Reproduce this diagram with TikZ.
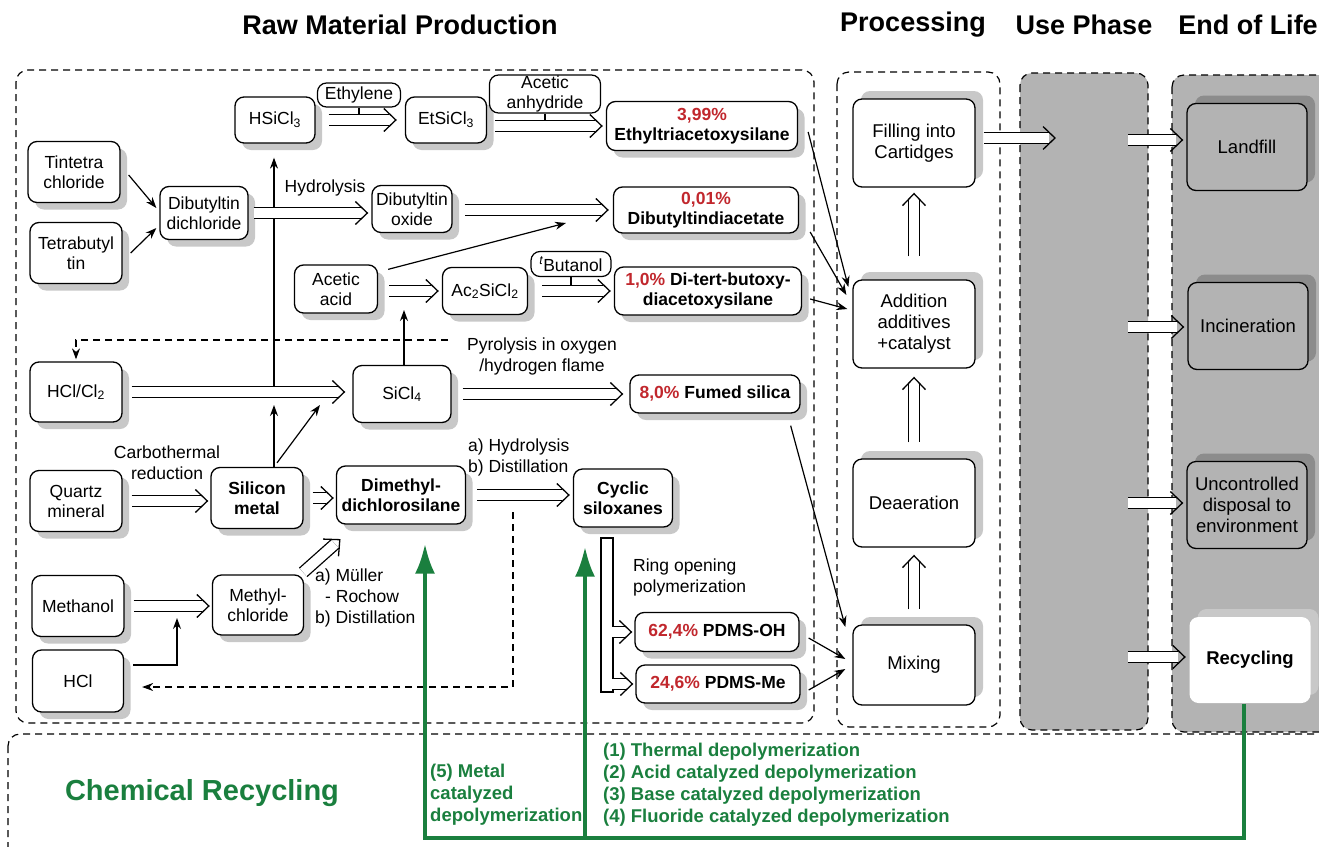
\documentclass[tikz,border=0pt]{standalone}
\usepackage{fontspec}
\setmainfont{Liberation Sans}
\usepackage{tikz}
\usetikzlibrary{arrows.meta}
\usetikzlibrary{shadows}
\usetikzlibrary{decorations.markings}
\definecolor{pctred}{HTML}{C1272D}
\definecolor{recgreen}{HTML}{1A7F3E}
\definecolor{phasegray}{HTML}{B3B3B3}
\definecolor{shadegray}{HTML}{C8C8C8}
\definecolor{darkshade}{HTML}{8C8C8C}

\newcommand{\pct}[1]{\textcolor{pctred}{#1}}

\tikzset{
  wh/.style 2 args={minimum width=#1pt, minimum height=#2pt},
  box/.style={draw, rounded corners=9pt, fill=white, line width=1.3pt, align=center, inner sep=1pt, font=\fontsize{17.5}{20}\selectfont},
  strong/.style={font=\fontsize{17.5}{20}\selectfont\bfseries},
  rmpbox/.style={box, drop shadow={shadow xshift=7pt, shadow yshift=-7pt, fill=shadegray, opacity=1}},
  procbox/.style={box, wh={122}{88}, font=\fontsize{18.5}{21}\selectfont, drop shadow={shadow xshift=8pt, shadow yshift=8pt, fill=shadegray, opacity=1}},
  eolbox/.style={box, fill=phasegray, wh={120}{87}, font=\fontsize{18.5}{21}\selectfont, drop shadow={shadow xshift=8pt, shadow yshift=8pt, fill=darkshade, opacity=1}},
  reagent/.style={draw, rounded corners=9pt, fill=white, line width=1.2pt, align=center, inner sep=0pt, font=\fontsize{17.5}{20}\selectfont},
  note/.style={align=center, inner sep=0pt, font=\fontsize{17.5}{21}\selectfont},
  heading/.style={inner sep=0pt, font=\fontsize{27}{30}\selectfont\bfseries},
  phase/.style={draw, dash pattern=on 7pt off 5pt, line width=1.2pt, rounded corners=12pt},
  arr/.style={line width=1.2pt, -{Stealth[length=11pt, width=8pt]}},
  dasharr/.style={arr, dash pattern=on 7pt off 5pt},
  chevron/.style={postaction={decorate, decoration={markings, mark=at position 1 with {\pgfsetinnerlinewidth{0pt}\draw[line width=1.3pt, shorten >=0pt, shorten <=0pt, line join=miter, solid] (-12pt,11.5pt) -- (0pt,0pt) -- (-12pt,-11.5pt);}}}},
  dbl/.style={double, double distance=10pt, line width=1.3pt, shorten >=6.5pt, chevron},
  tick/.style={line width=1.1pt},
  recline/.style={recgreen, line width=4pt},
  recarr/.style={recline, -{Latex[length=30pt, width=20pt]}},
  rectext/.style={recgreen, inner sep=0pt, align=left, anchor=west, font=\fontsize{18.5}{22}\selectfont\bfseries},
}

\begin{document}
\begin{tikzpicture}[x=1pt, y=-1pt]
        \useasboundingbox (0,0) rectangle (1319,846);

        % Phase frames
        \draw[phase] (16,70) rectangle (814,723);
        \draw[phase] (837,72) rectangle (1000,727);
        \draw[phase, fill=phasegray] (1020,73) rectangle (1148,730);
        \draw[phase, fill=phasegray] (1172,75) rectangle (1345,732);
        \draw[phase] (8,734) rectangle (1345,880);

        % Headings
        \node[heading] (rmphead) at (400,25) {Raw Material Production};
        \node[heading] (prochead) at (913,25) {Processing};
        \node[heading] (usehead) at (1084,25) {Use Phase};
        \node[heading] (eolhead) at (1248,25) {End of Life};

        % Raw material production
        \node[rmpbox, wh={92}{61}] (tintetra) at (74,172) {Tintetra\\chloride};
        \node[rmpbox, wh={92}{61}] (tetrabutyl) at (76,253) {Tetrabutyl\\tin};
        \node[rmpbox, wh={88}{53}] (dbtdcl) at (204,213) {Dibutyltin\\dichloride};
        \node[rmpbox, wh={80}{46}] (hsicl) at (275,120) {HSiCl\textsubscript{3}};
        \node[reagent, wh={83}{24}] (ethylene) at (359,95) {Ethylene};
        \node[rmpbox, wh={81}{46}] (etsicl) at (446,120) {EtSiCl\textsubscript{3}};
        \node[reagent, wh={111}{38}] (anhydride) at (545,94) {Acetic\\anhydride};
        \node[rmpbox, strong, wh={191}{49}] (ethyltri) at (702,126) {\pct{3,99\%}\\Ethyltriacetoxysilane};
        \node[rmpbox, wh={80}{47}] (dbtox) at (412,209) {Dibutyltin\\oxide};
        \node[rmpbox, strong, wh={185}{46}] (dbtdiac) at (706,210) {\pct{0,01\%}\\Dibutyltindiacetate};
        \node[rmpbox, wh={83}{48}] (aceticacid) at (336,289) {Acetic\\acid};
        \node[rmpbox, wh={85}{47}] (acsicl) at (485,291) {Ac\textsubscript{2}SiCl\textsubscript{2}};
        \node[reagent, wh={80}{25}] (butanol) at (571,264) {\textsuperscript{\itshape t}Butanol};
        \node[rmpbox, strong, wh={187}{48}] (ditert) at (708,291) {\pct{1,0\%} Di-tert-butoxy-\\diacetoxysilane};
        \node[rmpbox, wh={92}{60}] (hclcl) at (76,392) {HCl/Cl\textsubscript{2}};
        \node[rmpbox, wh={98}{57}] (sicl4) at (402,394) {SiCl\textsubscript{4}};
        \node[rmpbox, strong, wh={170}{38}] (fumed) at (715,394) {\pct{8,0\%} Fumed silica};
        \node[rmpbox, wh={92}{61}] (quartz) at (76,501) {Quartz\\mineral};
        \node[rmpbox, strong, wh={92}{61}] (simetal) at (257,498) {Silicon\\metal};
        \node[rmpbox, strong, wh={129}{58}] (dmdcs) at (401,495) {Dimethyl-\\dichlorosilane};
        \node[rmpbox, strong, wh={99}{58}] (cyclic) at (623,498) {Cyclic\\siloxanes};
        \node[rmpbox, wh={92}{61}] (methanol) at (78,606) {Methanol};
        \node[rmpbox, wh={91}{60}] (mecl) at (258,605) {Methyl-\\chloride};
        \node[rmpbox, wh={91}{62}] (hcl) at (78,681) {HCl};
        \node[rmpbox, strong, wh={164}{39}] (pdmsoh) at (717,632) {\pct{62,4\%} PDMS-OH};
        \node[rmpbox, strong, wh={164}{38}] (pdmsme) at (718,684) {\pct{24,6\%} PDMS-Me};
        \node[draw, fill=white, line width=1.3pt, inner sep=0pt, wh={12}{154}] (bus) at (607,615) {};

        % Process notes
        \node[note] (hydro) at (325,188) {Hydrolysis};
        \node[note] (pyro) at (542,356) {Pyrolysis in oxygen\\/hydrogen flame};
        \node[note] (carbo) at (167,463) {Carbothermal\\reduction};
        \node[note, align=left, anchor=west] (rochow) at (315,598) {a) Müller\\\hspace*{10pt}- Rochow\\b) Distillation};
        \node[note, align=left, anchor=west] (hydist) at (468,457) {a) Hydrolysis\\b) Distillation};
        \node[note, align=left, anchor=west] (ringopen) at (633,577) {Ring opening\\polymerization};

        % Processing
        \node[procbox] (filling) at (914,143) {Filling into\\Cartidges};
        \node[procbox] (addition) at (914,324) {Addition\\additives\\+catalyst};
        \node[procbox] (deaeration) at (914,503) {Deaeration};
        \node[procbox, wh={122}{80}] (mixing) at (914,665) {Mixing};

        % End of life
        \node[eolbox] (landfill) at (1247,147) {Landfill};
        \node[eolbox] (incin) at (1248,326) {Incineration};
        \node[eolbox] (uncontrolled) at (1247,505) {Uncontrolled\\disposal to\\environment};
        \node[box, draw=none, wh={121}{86}, font=\fontsize{18.5}{21}\selectfont\bfseries, drop shadow={shadow xshift=8pt, shadow yshift=8pt, fill=shadegray, opacity=1}] (recycling) at (1250,660) {Recycling};

        % Free ends
        \coordinate (sitop) at (274,387);
        \coordinate (sibot) at (274,405);
        \coordinate (sidiag) at (320,405);
        \coordinate (acbot) at (404,310);
        \coordinate (acdiag) at (566,223);
        \coordinate (mejoin) at (177,618);
        \coordinate (hclret) at (448,340);
        \coordinate (cldrop) at (513,512);
        \coordinate (usein) at (1055,138);
        \coordinate (useout1) at (1128,140);
        \coordinate (useout2) at (1128,327);
        \coordinate (useout3) at (1128,503);
        \coordinate (useout4) at (1128,657);
        \coordinate (gleft) at (425,838);
        \coordinate (gmid) at (585,838);

        % Single arrows
        \draw[arr] ([xshift=8pt, yshift=-3pt]tintetra.east) -- ([xshift=-3pt, yshift=5pt]dbtdcl.west);
        \draw[arr] ([xshift=8pt]tetrabutyl.east) -- ([xshift=-3pt, yshift=-15pt]dbtdcl.west);
        \draw[arr, shorten >=14pt] (sitop) -- (sitop |- hsicl.south);
        \draw[arr] (simetal.north -| sibot) -- (sibot);
        \draw[arr] ([xshift=20pt, yshift=4pt]simetal.north) -- (sidiag);
        \draw[arr] (sicl4.north -| acbot) -- (acbot);
        \draw[arr] ([xshift=10pt, yshift=-5pt]aceticacid.north east) -- (acdiag);
        \draw[arr] ([xshift=9pt, yshift=16pt]hcl.east) -| (mejoin);
        \draw[arr] ([xshift=10pt, yshift=-6pt]ethyltri.east) -- ([xshift=-4pt, yshift=37pt]addition.west);
        \draw[arr] ([xshift=11pt, yshift=-22pt]dbtdiac.east) -- ([xshift=-6pt, yshift=29pt]addition.west);
        \draw[arr] ([xshift=8pt, yshift=-8pt]ditert.east) -- ([xshift=-5pt, yshift=15pt]addition.west);
        \draw[arr] ([xshift=-10pt, yshift=-12pt]fumed.south east) -- ([xshift=-7pt, yshift=38pt]mixing.west);
        \draw[arr] ([xshift=9pt, yshift=-6pt]pdmsoh.east) -- ([xshift=-7pt, yshift=6pt]mixing.west);
        \draw[arr] ([xshift=8pt, yshift=-6pt]pdmsme.east) -- ([xshift=-7pt, yshift=-4pt]mixing.west);

        % Recycled HCl
        \draw[dasharr] (hclret) -| ([yshift=2pt]hclcl.north);
        \draw[dasharr] (cldrop) |- ([xshift=18pt, yshift=-6pt]hcl.east);

        % Reagents
        \draw[tick] (ethylene.south) -- (ethylene.south |- hsicl.east);
        \draw[tick] (anhydride.south) -- (anhydride.south |- ethyltri.west);
        \draw[tick] (butanol.south) -- (butanol.south |- ditert.west);

        % Double arrows
        \draw[dbl] ([xshift=13pt]hsicl.east) -- ([xshift=-9pt]etsicl.west);
        \draw[dbl] ([xshift=8pt]etsicl.east |- ethyltri.west) -- ([xshift=-4pt]ethyltri.west);
        \draw[dbl] ([xshift=5pt]dbtdcl.east) -- ([xshift=-4pt]dbtox.west |- dbtdcl.east);
        \draw[dbl] ([xshift=12pt]dbtox.east |- dbtdiac.west) -- ([xshift=-5pt]dbtdiac.west);
        \draw[dbl] ([xshift=11pt]aceticacid.east |- acsicl.west) -- ([xshift=-4pt]acsicl.west);
        \draw[dbl] ([xshift=14pt]acsicl.east) -- ([xshift=-4pt]ditert.west |- acsicl.east);
        \draw[dbl] ([xshift=9pt]hclcl.east) -- ([xshift=-8pt]sicl4.west |- hclcl.east);
        \draw[dbl] ([xshift=11pt]sicl4.east) -- ([xshift=-7pt]fumed.west |- sicl4.east);
        \draw[dbl] ([xshift=9pt]quartz.east) -- ([xshift=-3pt]simetal.west |- quartz.east);
        \draw[dbl] ([xshift=9pt]simetal.east) -- ([xshift=-3pt]dmdcs.west |- simetal.east);
        \draw[dbl] ([xshift=9pt]methanol.east) -- ([xshift=-3pt]mecl.west |- methanol.east);
        \draw[dbl] ([xshift=-1pt, yshift=2pt]mecl.north east) -- ([xshift=4pt, yshift=-15pt]dmdcs.south west);
        \draw[dbl] ([xshift=11pt]dmdcs.east) -- ([xshift=-4pt]cyclic.west |- dmdcs.east);
        \draw[dbl] ([xshift=-1.5pt]bus.east |- pdmsoh.west) -- ([xshift=-3pt]pdmsoh.west);
        \draw[dbl] ([xshift=-1.5pt]bus.east |- pdmsme.west) -- ([xshift=-3pt]pdmsme.west);

        % Processing steps
        \draw[dbl] ([yshift=15pt]mixing.north) -- ([yshift=-8pt]deaeration.south);
        \draw[dbl] ([yshift=16pt]deaeration.north) -- ([yshift=-9pt]addition.south);
        \draw[dbl] ([yshift=23pt]addition.north) -- ([yshift=-6pt]filling.south);

        % Use phase
        \draw[dbl] ([xshift=8pt]filling.east |- usein) -- (usein);
        \draw[dbl] (useout1) -- ([xshift=-4pt]landfill.west |- useout1);
        \draw[dbl] (useout2) -- ([xshift=-4pt]incin.west |- useout2);
        \draw[dbl] (useout3) -- ([xshift=-4pt]uncontrolled.west |- useout3);
        \draw[dbl] (useout4) -- ([xshift=-4pt]recycling.west |- useout4);

        % Chemical recycling
        \draw[recarr, shorten >=19pt] ([xshift=-6pt]recycling.south) |- (gleft) -- (gleft |- dmdcs.south);
        \draw[recarr, shorten >=19pt] (gmid) -- (gmid |- cyclic.south);

        \node[recgreen, inner sep=0pt, font=\fontsize{29}{30}\selectfont\bfseries] (chemrec) at (202,793) {Chemical Recycling};
        \node[rectext] (metalcat) at (430,795) {(5) Metal\\catalyzed\\depolymerization};
        \node[rectext] (depolys) at (603,785) {(1) Thermal depolymerization\\(2) Acid catalyzed depolymerization\\(3) Base catalyzed depolymerization\\(4) Fluoride catalyzed depolymerization};
\end{tikzpicture}
\end{document}
